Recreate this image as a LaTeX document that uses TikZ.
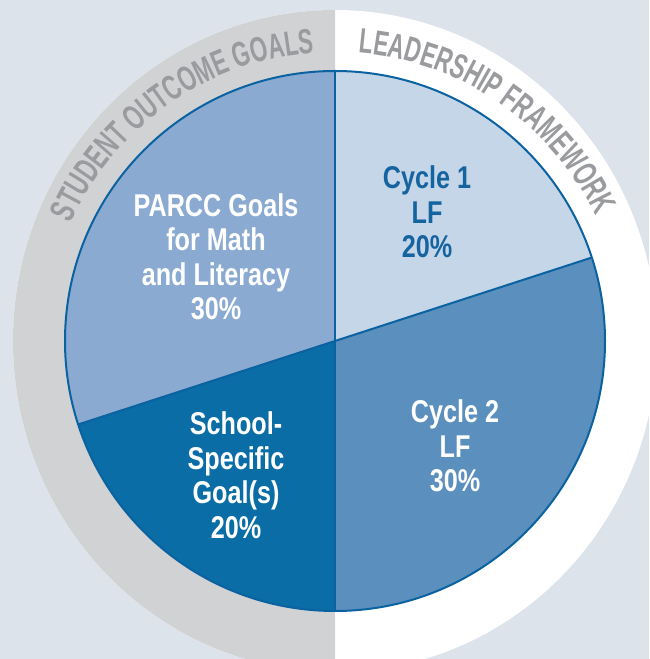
\documentclass[tikz,border=0pt]{standalone}
\usepackage{fontspec}
\setmainfont{Liberation Sans}[FakeStretch=0.8]
\newfontfamily\ringfamily{Liberation Sans}[FakeStretch=0.64]
\usetikzlibrary{decorations.text}
\definecolor{bgblue}{HTML}{DCE3EA}
\definecolor{ringgray}{HTML}{D1D2D3}
\definecolor{ringtext}{HTML}{9A9B9E}
\definecolor{parccblue}{HTML}{8AAAD1}
\definecolor{cycleonefill}{HTML}{C6D6E9}
\definecolor{cycletwofill}{HTML}{5B8FBE}
\definecolor{schoolfill}{HTML}{0B6DA6}
\definecolor{edgeblue}{HTML}{0A62A0}
\definecolor{labelblue}{HTML}{16649F}
\newcommand\ringfont{\ringfamily\fontsize{35}{35}\selectfont\bfseries\color{ringtext}}
\begin{document}
\begin{tikzpicture}[x=1pt,y=1pt,
    slicelabel/.style={align=center, text=white, font=\bfseries\fontsize{31.5}{34.5}\selectfont},
    edge/.style={draw=edgeblue, line width=2pt}]
  % Page and background
  \useasboundingbox (0,0) rectangle (649,659);
  \clip (0,0) rectangle (649,659);
  \fill[bgblue] (0,0) rectangle (649,659);

  % Define the centre and the circles
  \coordinate (c) at (335,318);
  \def\ring{(c) ellipse [x radius=322, y radius=331]}
  \def\pie{(c) circle (270)}

  % Outer ring, grey on the left and white on the right
  \fill[white] \ring;
  \begin{scope}
    \clip (0,0) rectangle (335,659);
    \fill[ringgray] \ring;
  \end{scope}

  % Ring titles
  \path[decorate, decoration={text along path, text align=center,
      text={|\ringfont|STUDENT OUTCOME GOALS}}]
    (c) ++(175:289) arc[start angle=175, end angle=75, radius=289];
  \path[decorate, decoration={text along path, text align=center,
      text={|\ringfont|LEADERSHIP FRAMEWORK}}]
    (c) ++(105.5:289) arc[start angle=105.5, end angle=5.5, radius=289];

  % Slices
  \fill[cycleonefill] (c) -- ++(90:270) arc[start angle=90, end angle=18, radius=270] -- cycle;
  \fill[cycletwofill] (c) -- ++(18:270) arc[start angle=18, end angle=-90, radius=270] -- cycle;
  \fill[schoolfill] (c) -- ++(-90:270) arc[start angle=-90, end angle=-162, radius=270] -- cycle;
  \fill[parccblue] (c) -- ++(-162:270) arc[start angle=-162, end angle=-270, radius=270] -- cycle;

  % Outline and dividers
  \draw[edge] \pie;
  \draw[edge] (c) ++(90:270) -- ++(-90:540);
  \draw[edge] (c) ++(18:270) -- ++(198:540);

  % Labels
  \node[slicelabel] (parcc) at (216,402) {PARCC Goals\\for Math\\and Literacy\\30\%};
  \node[slicelabel, text=labelblue] (cycleone) at (427,447) {Cycle 1\\LF\\20\%};
  \node[slicelabel] (cycletwo) at (455,213) {Cycle 2\\LF\\30\%};
  \node[slicelabel] (school) at (236,184) {School-\\Specific\\Goal(s)\\20\%};
\end{tikzpicture}
\end{document}
